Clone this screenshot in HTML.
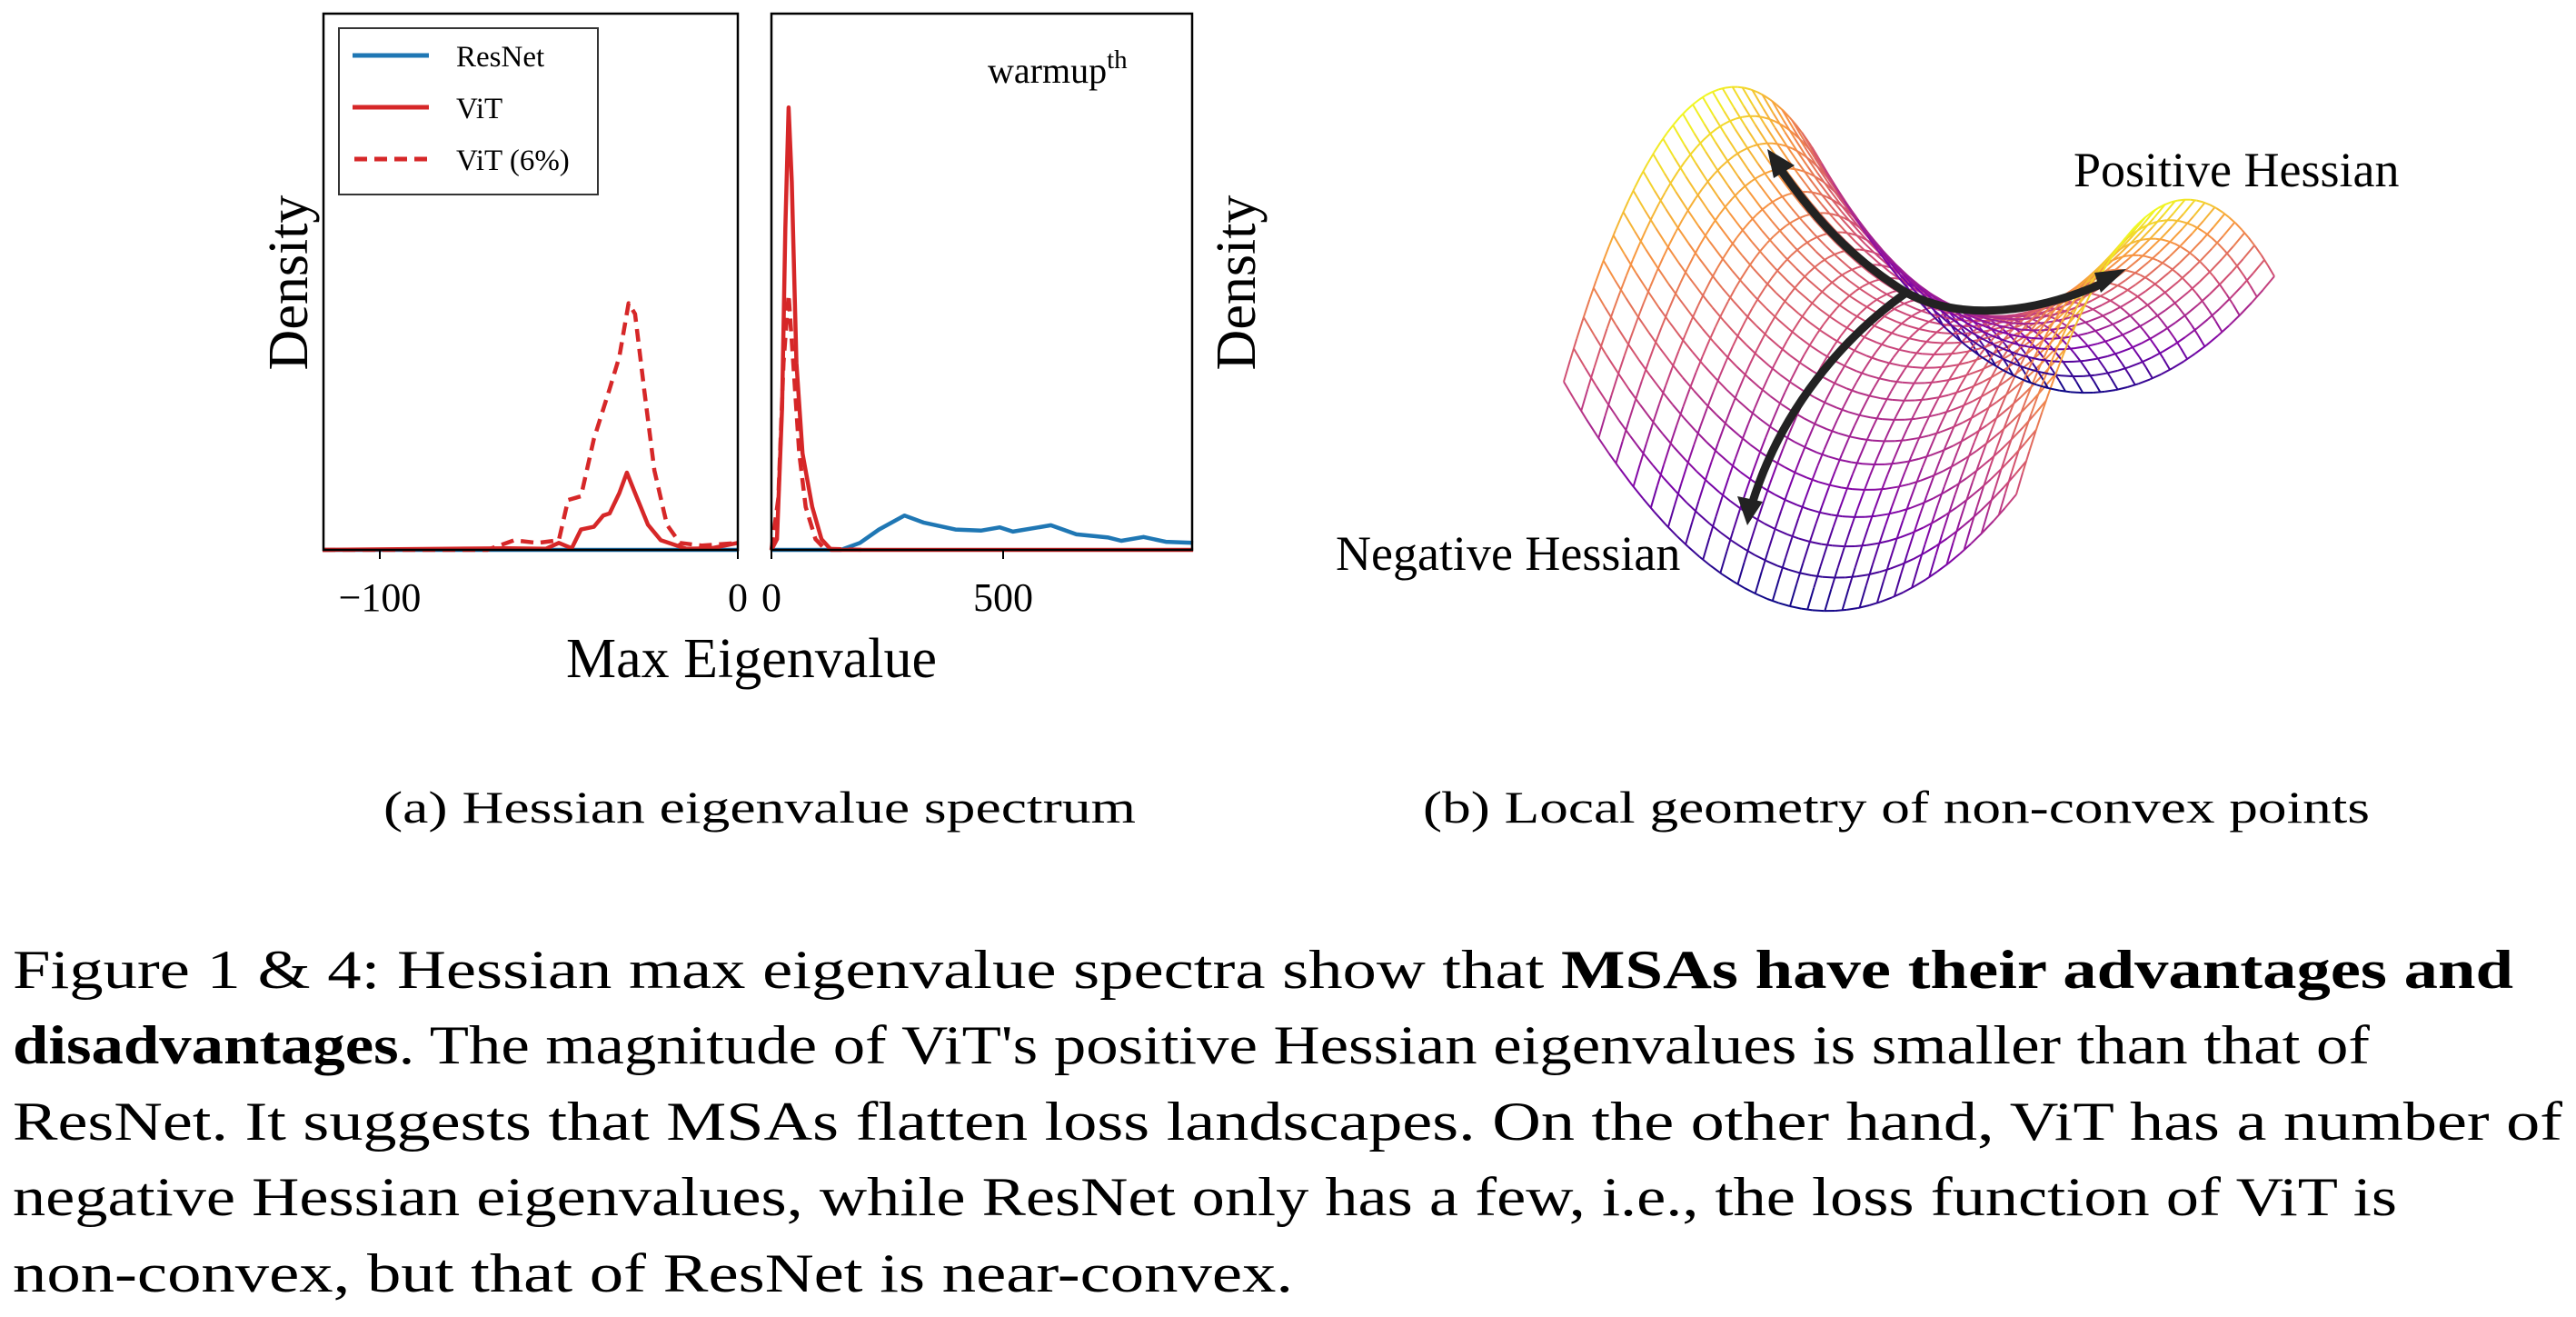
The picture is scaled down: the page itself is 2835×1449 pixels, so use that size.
<!DOCTYPE html>
<html><head><meta charset="utf-8">
<style>
html,body{margin:0;padding:0;background:#fff;}
svg{display:block;}
text{font-family:"Liberation Serif",serif;fill:#000;}
</style></head>
<body>
<svg id="root" width="2835" height="1449" viewBox="0 0 2835 1449" xmlns="http://www.w3.org/2000/svg">
<rect width="2835" height="1449" fill="#fff"/>
<g id="chartA">
  <g id="marksL"></g>
  <g id="marksR"></g>
  <rect x="356" y="15" width="456" height="590" fill="none" stroke="#000" stroke-width="2.5"/>
  <rect x="849" y="15" width="463" height="590" fill="none" stroke="#000" stroke-width="2.5"/>
  <g id="ticks"></g>
  <text x="827" y="745" font-size="62" text-anchor="middle">Max Eigenvalue</text>
  <text transform="translate(338,311) rotate(-90)" font-size="62" text-anchor="middle">Density</text>
  <text transform="translate(1381,311) rotate(-90)" font-size="62" text-anchor="middle">Density</text>
  <text x="1087" y="91" font-size="40">warmup<tspan dy="-16" font-size="29">th</tspan></text>
  <g>
    <rect x="373" y="31" width="285" height="183" fill="#fff" stroke="#333" stroke-width="2"/>
    <line x1="388" y1="61" x2="472" y2="61" stroke="#1f77b4" stroke-width="5"/>
    <text x="502" y="73" font-size="33">ResNet</text>
    <line x1="388" y1="118" x2="472" y2="118" stroke="#d62728" stroke-width="5"/>
    <text x="502" y="130" font-size="33">ViT</text>
    <line x1="390" y1="175" x2="472" y2="175" stroke="#d62728" stroke-width="5" stroke-dasharray="14,8"/>
    <text x="502" y="187" font-size="33">ViT (6%)</text>
  </g>
</g>
<g id="surface"></g>
<g fill="none" stroke="#222" stroke-width="9" stroke-linecap="round">
  <path d="M2098,322 C2030,280 1990,230 1955,180"/>
  <path d="M2098,322 C2150,350 2230,350 2318,310"/>
  <path d="M2098,322 C2030,370 1960,450 1928,555"/>
  <polygon points="1945,164 1975,182 1952,196" fill="#222" stroke="none"/>
  <polygon points="2340,296 2312,322 2305,300" fill="#222" stroke="none"/>
  <polygon points="1923,578 1912,546 1940,552" fill="#222" stroke="none"/>
</g>
<text x="2282" y="205" font-size="54">Positive Hessian</text>
<text x="1470" y="627" font-size="54">Negative Hessian</text>
<text x="422" y="905" font-size="50" textLength="828" lengthAdjust="spacingAndGlyphs">(a) Hessian eigenvalue spectrum</text>
<text x="1566" y="905" font-size="50" textLength="1042" lengthAdjust="spacingAndGlyphs">(b) Local geometry of non-convex points</text>
<g font-size="60">
  <text x="14" y="1087" textLength="2752" lengthAdjust="spacingAndGlyphs">Figure 1 &amp; 4: Hessian max eigenvalue spectra show that <tspan font-weight="bold">MSAs have their advantages and</tspan></text>
  <text x="14" y="1170" textLength="2594" lengthAdjust="spacingAndGlyphs"><tspan font-weight="bold">disadvantages</tspan>. The magnitude of ViT's positive Hessian eigenvalues is smaller than that of</text>
  <text x="14" y="1254" textLength="2806" lengthAdjust="spacingAndGlyphs">ResNet. It suggests that MSAs flatten loss landscapes. On the other hand, ViT has a number of</text>
  <text x="14" y="1337" textLength="2624" lengthAdjust="spacingAndGlyphs">negative Hessian eigenvalues, while ResNet only has a few, i.e., the loss function of ViT is</text>
  <text x="14" y="1421" textLength="1409" lengthAdjust="spacingAndGlyphs">non-convex, but that of ResNet is near-convex.</text>
</g>
</svg>
<script>
// ---- chart data ----
const vitLeftX = [-116,-80.3,-64.3,-53.6,-50,-46.4,-43.8,-40.2,-37.6,-35.8,-33.1,-31,-28.7,-25.1,-21.5,-14.4,-7.3,0];
const vitLeftY = [0,0.002,0.003,0.002,0.013,0.003,0.038,0.043,0.064,0.068,0.106,0.144,0.106,0.047,0.018,0.002,0.003,0.013];
const vit6LeftX = [-116,-70,-62.5,-56,-50,-47.4,-43.8,-40.2,-35.8,-33.1,-30.5,-28.7,-26,-23.3,-19.8,-16.2,-10,0];
const vit6LeftY = [0,0,0.018,0.013,0.018,0.093,0.10,0.207,0.30,0.36,0.46,0.44,0.29,0.148,0.047,0.013,0.008,0.013];
const resnetLeftX = [-116,0];
const resnetLeftY = [0,0];
const vitRightX = [0,12,23,30,37,44,54,67,88,108,129,200,910];
const vitRightY = [0,0.02,0.265,0.6,0.825,0.686,0.349,0.18,0.08,0.02,0,0,0];
const vit6RightX = [0,15,26,37,47,60,74,95,115,200];
const vit6RightY = [0,0.097,0.349,0.476,0.349,0.18,0.08,0.02,0.002,0];
const resnetRightX = [0,150,191,232,287,328,397,452,493,521,603,658,727,755,803,851,910];
const resnetRightY = [0,0,0.013,0.038,0.064,0.051,0.038,0.036,0.042,0.034,0.046,0.029,0.023,0.017,0.024,0.015,0.013];
const tickValuesL = [-100, 0];
const tickLabelsL = ["\u2212100", "0"];
const tickValuesR = [0, 500];
const tickLabelsR = ["0", "500"];

const NS = "http://www.w3.org/2000/svg";
const xL = v => 812 + (v - 0) * 3.94;
const xR = v => 849 + v * 0.51;
const yD = d => 605 - d * 590;

function drawLine(g, xs, ys, xf, color, dash, name) {
  const p = document.createElementNS(NS, "path");
  let d = "";
  for (let i = 0; i < xs.length; i++) d += (i ? "L" : "M") + xf(xs[i]).toFixed(1) + "," + yD(ys[i]).toFixed(1);
  p.setAttribute("d", d);
  p.setAttribute("fill", "none");
  p.setAttribute("stroke", color);
  p.setAttribute("stroke-width", "4.5");
  p.setAttribute("stroke-linejoin", "round");
  if (dash) p.setAttribute("stroke-dasharray", "14,8");
  
  
  g.appendChild(p);
}
const gL = document.getElementById("marksL"), gR = document.getElementById("marksR");
drawLine(gL, resnetLeftX, resnetLeftY, xL, "#1f77b4", false, "resnet-line-left");
drawLine(gL, vitLeftX, vitLeftY, xL, "#d62728", false, "vit-line-left");
drawLine(gL, vit6LeftX, vit6LeftY, xL, "#d62728", true, "vit6-line-left");
drawLine(gR, resnetRightX, resnetRightY, xR, "#1f77b4", false, "resnet-line-right");
drawLine(gR, vitRightX, vitRightY, xR, "#d62728", false, "vit-line-right");
drawLine(gR, vit6RightX, vit6RightY, xR, "#d62728", true, "vit6-line-right");

const gT = document.getElementById("ticks");
function tick(x, label) {
  const l = document.createElementNS(NS, "line");
  l.setAttribute("x1", x); l.setAttribute("x2", x); l.setAttribute("y1", 605); l.setAttribute("y2", 615);
  l.setAttribute("stroke", "#000"); l.setAttribute("stroke-width", "2");
  
  
  gT.appendChild(l);
  const t = document.createElementNS(NS, "text");
  t.setAttribute("x", x); t.setAttribute("y", 672); t.setAttribute("font-size", "44");
  t.setAttribute("text-anchor", "middle"); t.textContent = label;
  
  
  gT.appendChild(t);
}
tickValuesL.forEach((v, i) => tick(xL(v), tickLabelsL[i]));
tickValuesR.forEach((v, i) => tick(xR(v), tickLabelsR[i]));

// ---- saddle surface mesh ----
const stops = [[13,8,135],[126,3,168],[204,71,120],[248,149,64],[240,249,33]];
function plasma(t) {
  t = Math.max(0, Math.min(1, t)) * 4;
  const i = Math.min(3, Math.floor(t)), f = t - i;
  const a = stops[i], b = stops[i + 1];
  return "rgb(" + a.map((c, k) => Math.round(c + (b[k] - c) * f)).join(",") + ")";
}
const C = [2112, 362], U = [249, 62], V = [142, -120], H = 185;
function proj(x, y) {
  const z = x * x - y * y;
  return [C[0] + x * U[0] + y * V[0], C[1] + x * U[1] + y * V[1] - z * H, z];
}
const gS = document.getElementById("surface");
const N = 26, M = 40;
function seg(p, q) {
  const l = document.createElementNS(NS, "line");
  l.setAttribute("x1", p[0].toFixed(1)); l.setAttribute("y1", p[1].toFixed(1));
  l.setAttribute("x2", q[0].toFixed(1)); l.setAttribute("y2", q[1].toFixed(1));
  l.setAttribute("stroke", plasma(((p[2] + q[2]) / 2 + 1) / 2));
  l.setAttribute("stroke-width", "2");
  
  
  gS.appendChild(l);
}
for (let i = 0; i <= N; i++) {
  const a = -1 + 2 * i / N;
  for (let j = 0; j < M; j++) {
    const b0 = -1 + 2 * j / M, b1 = -1 + 2 * (j + 1) / M;
    seg(proj(a, b0), proj(a, b1));
    seg(proj(b0, a), proj(b1, a));
  }
}
</script>
</body></html>
